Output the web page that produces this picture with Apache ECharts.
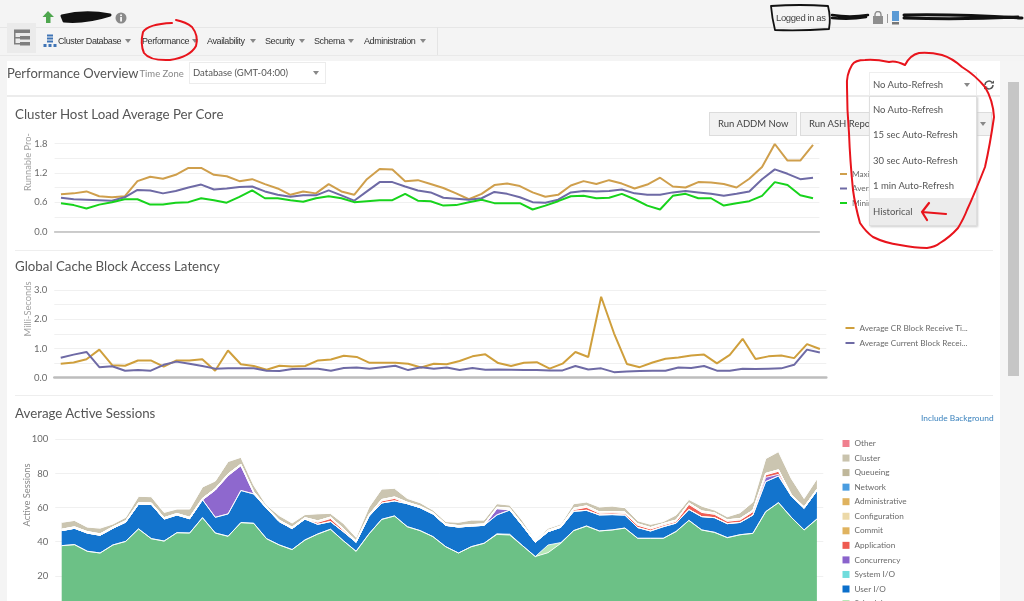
<!DOCTYPE html>
<html><head><meta charset="utf-8">
<script src="https://cdn.jsdelivr.net/npm/echarts@6/dist/echarts.min.js"></script>
<style>
html,body{margin:0;padding:0;width:1024px;height:601px;overflow:hidden;background:#f4f4f4;font-family:Lato,sans-serif;color:#555}
#page{position:absolute;left:0;top:0;width:1024px;height:601px;overflow:hidden;filter:blur(.35px)}
.t{position:absolute;white-space:nowrap;line-height:1}
.nav{font-family:"Liberation Sans",sans-serif;font-size:9px;letter-spacing:-.4px;color:#333;top:36.500px}
.tri{position:absolute;width:0;height:0;border-left:3.5px solid transparent;border-right:3.5px solid transparent;border-top:4.5px solid #888}
.ttl{font-size:13.300px;color:#555}
.box{position:absolute;box-sizing:border-box}
.it{position:absolute;left:873px;font-size:9.500px;color:#555;line-height:1;white-space:nowrap}
#chart{position:absolute;left:0;top:0;width:1024px;height:700px;z-index:2}
#over{position:absolute;left:0;top:0;z-index:3}
#ink{position:absolute;left:0;top:0;z-index:5;pointer-events:none}
</style></head><body><div id="page">
<div class="box" style="left:7px;top:61px;width:993px;height:540px;background:#fff"></div>
<div class="box" style="left:1000px;top:61px;width:24px;height:540px;background:#f5f5f5"></div>
<div class="box" style="left:1008px;top:82px;width:11px;height:294px;background:#c6c6c6"></div>
<div class="box" style="left:0;top:27px;width:1024px;height:1px;background:#e6e6e6"></div>
<div class="box" style="left:43px;top:27px;width:395px;height:28px;border-right:1px solid #e4e4e4"></div>
<div class="box" style="left:0;top:55px;width:1024px;height:1px;background:#e9e9e9"></div>
<div class="box" style="left:7px;top:95px;width:993px;height:2px;background:#ececec"></div>
<div class="box" style="left:15px;top:250px;width:978px;height:1px;background:#eeeeee"></div>
<div class="box" style="left:15px;top:395px;width:978px;height:1px;background:#eeeeee"></div>

<!-- header -->
<div class="box" style="left:7px;top:23px;width:29px;height:30px;background:#ebebeb"></div>
<svg class="box" style="left:12px;top:28px" width="20" height="20"><g fill="#7f7f7f"><rect x="2" y="1.500" width="16" height="3.500"/><rect x="8" y="8" width="10" height="3.500"/><rect x="8" y="14" width="10" height="3.500"/><rect x="2" y="5" width="1.500" height="11"/><rect x="2" y="9" width="6" height="1.500"/><rect x="2" y="15" width="6" height="1.500"/></g></svg>
<svg class="box" style="left:42px;top:10px" width="14" height="14"><path d="M6 1 L12 7 H8.500 V13 H4 V7 H0.500Z" fill="#4ea64e"/></svg>
<svg class="box" style="left:115px;top:12px" width="12" height="12"><circle cx="6" cy="6" r="5.500" fill="#8a8a8a"/><rect x="5.200" y="5" width="1.700" height="4.500" fill="#fff"/><rect x="5.200" y="2.500" width="1.700" height="1.600" fill="#fff"/></svg>
<span class="t" style="left:776px;top:12.500px;font-family:'Liberation Sans';font-size:9.500px;letter-spacing:-.4px;color:#444">Logged in as</span>
<svg class="box" style="left:872px;top:11px" width="30" height="14"><g fill="#8e8e8e"><rect x="1" y="5" width="10" height="8"/></g><path d="M3 6V3.500a3 3 0 0 1 6 0V6" fill="none" stroke="#8e8e8e" stroke-width="1.400"/><rect x="15" y="3" width="1" height="9" fill="#999"/><rect x="20" y="0" width="7" height="10" fill="#5a9ad5"/><rect x="20" y="11" width="7" height="2.500" fill="#777"/></svg>

<!-- nav -->
<svg class="box" style="left:43px;top:34px" width="14" height="14"><g fill="#3f74b5"><rect x="4" y="0.500" width="6" height="2"/><rect x="4" y="3.500" width="6" height="2"/><rect x="4" y="6.500" width="6" height="2"/><rect x="0.500" y="10" width="3" height="3"/><rect x="5.500" y="10" width="3" height="3"/><rect x="10.500" y="10" width="3" height="3"/></g></svg>
<span class="t nav" style="left:58px">Cluster Database</span><i class="tri" style="left:124.500px;top:39px"></i>
<span class="t nav" style="left:142px">Performance</span><i class="tri" style="left:191.500px;top:39px"></i>
<span class="t nav" style="left:207px">Availability</span><i class="tri" style="left:249.500px;top:39px"></i>
<span class="t nav" style="left:265px">Security</span><i class="tri" style="left:298.500px;top:39px"></i>
<span class="t nav" style="left:314px">Schema</span><i class="tri" style="left:347.500px;top:39px"></i>
<span class="t nav" style="left:364px">Administration</span><i class="tri" style="left:419.500px;top:39px"></i>

<!-- toolbar -->
<span class="t" style="left:7px;top:66.500px;font-size:13px;color:#555">Performance Overview</span>
<span class="t" style="left:139.500px;top:69px;font-size:9.500px;color:#888">Time Zone</span>
<div class="box" style="left:189px;top:62px;width:137px;height:22px;background:#fff;border:1px solid #ececec"></div>
<span class="t" style="left:193px;top:68px;font-size:9.500px;color:#555">Database (GMT-04:00)</span><i class="tri" style="left:313px;top:71px"></i>

<span class="t ttl" style="left:15px;top:107.500px">Cluster Host Load Average Per Core</span>
<span class="t ttl" style="left:15px;top:259.500px">Global Cache Block Access Latency</span>
<span class="t ttl" style="left:15px;top:406.500px">Average Active Sessions</span>
<span class="t" style="left:921px;top:414px;font-size:8.400px;color:#3a82bd">Include Background</span>

<div id="chart"></div>

<div id="over">
<div class="box" style="left:709px;top:112px;width:88px;height:24px;background:#f2f2f2;border:1px solid #dcdcdc"></div>
<span class="t" style="left:718px;top:119px;font-size:9.500px;color:#444">Run ADDM Now</span>
<div class="box" style="left:800px;top:112px;width:192px;height:24px;background:#f2f2f2;border:1px solid #dcdcdc"></div>
<span class="t" style="left:809px;top:119px;font-size:9.500px;color:#444">Run ASH Report</span><i class="tri" style="left:980px;top:122px"></i>
<div class="box" style="left:869px;top:72px;width:108px;height:24px;background:#fff;border:1px solid #eeeeee"></div>
<span class="t" style="left:873px;top:80px;font-size:9.500px;color:#555">No Auto-Refresh</span><i class="tri" style="left:964px;top:83px"></i>
<svg class="box" style="left:983px;top:79px" width="12" height="12"><path d="M2 6a4 4 0 0 1 7-2.500M10 6a4 4 0 0 1-7 2.500" fill="none" stroke="#555" stroke-width="1.500"/><path d="M7.500 4.500h3.500v-3zM4.500 7.500h-3.500v3z" fill="#555"/></svg>
<div class="box" style="left:869px;top:96px;width:108px;height:130px;background:#fff;border:1px solid #dedede;box-shadow:1px 1px 2px #ccc"></div>
<div class="box" style="left:870px;top:198px;width:106px;height:27px;background:#ececec"></div>
<span class="it" style="top:105px">No Auto-Refresh</span>
<span class="it" style="top:130px">15 sec Auto-Refresh</span>
<span class="it" style="top:156px">30 sec Auto-Refresh</span>
<span class="it" style="top:181px">1 min Auto-Refresh</span>
<span class="it" style="top:207px">Historical</span>
</div>

<svg id="ink" width="1024" height="601">
<g fill="none" stroke-linecap="round" stroke-linejoin="round">
<path d="M62 16Q85 10 110 15Q85 23 64 21Z" fill="#111" stroke="#111" stroke-width="3"/>
<path d="M832 15Q850 18 868 15M832 18Q850 20 866 17" stroke="#111" stroke-width="2.500"/>
<path d="M904 15Q960 14 1022 18M904 18Q960 20 1018 17" stroke="#111" stroke-width="3"/>
<path d="M771 6Q800 4 828 6Q831 18 829 29Q800 31 775 30Q772 18 771 6Z" stroke="#111" stroke-width="1.800"/>
<path d="M176 20Q186 22 192 27Q199 36 196 46Q190 57 170 60Q150 61 144 53Q140 44 143 32Q148 24 172 23" stroke="#e8141c" stroke-width="2"/>
<path d="M905 65Q895 60 889 62Q875 59 865 60Q855 60 852 65Q846 75 847 87Q847 110 849 133Q850 160 853 190Q855 205 860 223Q866 232 873 237Q885 243 900 245Q915 248 927 248Q935 247 940 243Q950 237 958 228Q964 218 967 210Q974 195 985 167Q990 145 994 117Q993 100 985 87Q975 75 962 67Q952 58 942 55Q930 52 919 53Q910 55 905 65Z" stroke="#e8141c" stroke-width="2"/>
<path d="M946 214L922 212M929 203L922 212L927 220" stroke="#e8141c" stroke-width="2.200"/>
</g></svg>
</div>
<script>
// ---- Cluster Host Load Average Per Core ----
const loadMax = [.76,.78,.82,.72,.70,.72,1.03,1.12,1.08,1.16,1.30,1.30,1.16,1.13,1.03,1.07,.97,.88,.75,.82,.78,.97,.82,.75,1.07,1.28,1.27,1.03,1.05,.97,.89,.78,.66,.77,.95,.98,.93,.80,.71,.75,.94,1.03,.97,1.05,.98,.88,.96,1.10,.92,.90,1.01,1.00,.97,.90,1.08,1.32,1.79,1.45,1.45,1.77];
const loadAvg = [.69,.66,.65,.64,.63,.70,.85,.84,.78,.83,.90,.96,.86,.88,.91,.92,.82,.75,.71,.74,.74,.84,.74,.63,.82,1.01,1.01,.92,.84,.80,.69,.67,.65,.68,.81,.77,.70,.60,.59,.65,.80,.83,.82,.83,.86,.78,.75,.75,.80,.83,.80,.77,.73,.77,.82,1.07,1.27,1.18,1.07,1.10];
const loadMin = [.58,.54,.47,.55,.60,.66,.66,.55,.55,.59,.60,.68,.64,.59,.71,.84,.68,.68,.64,.61,.68,.72,.68,.60,.62,.64,.64,.77,.63,.62,.53,.54,.60,.65,.58,.58,.58,.45,.53,.62,.72,.73,.68,.69,.77,.66,.53,.45,.73,.77,.68,.68,.53,.58,.62,.73,1.01,.95,.74,.68];
// ---- Global Cache Block Access Latency ----
const crReceive = [.48,.52,.63,.96,.43,.41,.59,.59,.38,.59,.59,.63,.24,.93,.46,.40,.27,.41,.38,.40,.59,.62,.75,.71,.51,.51,.51,.48,.35,.48,.46,.57,.73,.80,.50,.40,.51,.53,.31,.48,.88,.71,2.77,1.52,.47,.36,.52,.65,.69,.76,.79,.49,.78,1.33,.64,.73,.76,.67,1.15,.98];
const currentReceive = [.68,.79,.88,.36,.39,.24,.26,.24,.44,.55,.48,.40,.31,.32,.32,.32,.24,.23,.30,.31,.31,.24,.33,.35,.31,.36,.41,.26,.36,.31,.35,.26,.33,.27,.28,.27,.26,.26,.25,.25,.40,.28,.32,.19,.21,.23,.24,.24,.35,.33,.40,.24,.24,.31,.30,.31,.32,.44,.96,.86];
// ---- Average Active Sessions ----
const cpu = [37.7,38.3,34.4,33.4,38.1,40.2,47.5,41.8,40.4,45.3,45.1,54.1,45.1,43.2,51.2,50.8,41.8,38.1,35.4,41,44.5,47.3,40.6,34.4,44.5,53.1,55.1,48.8,46.5,43,37.1,33.4,37.1,39.1,44.3,43.9,37.7,31.3,33.6,39.1,46.5,49.2,46.3,46.9,48,42,42,42,46,52.5,46.9,45.5,42.4,44.1,44.9,57.6,62.9,54.3,46.9,53.3];
const scheduler = [0,0,0,0,0,0,0,0,0,0,0,0,0,0,0,0,0,0,0,0,0,0,0,0,0,0,0,0,0,0,0,0,0,0,.3,.5,0,0,4.5,.4,0,0,0,0,0,0,0,0,0,0,0,0,0,0,0,0,0,0,0,0];
const userIO = [8.8,9.6,10.7,10.4,9.8,11.3,14.5,20.1,12.9,10.4,8.4,10.5,9.2,13.1,18.8,17.2,17.8,13.7,12.3,12.3,5.7,4.5,5.3,5.3,10.4,9.6,8.8,13.5,13.5,13.3,12.5,15.2,12.1,10.5,11.1,14.1,11.7,8.4,7.8,9,11.3,9.2,9.4,9,7.6,6.3,4.3,6.8,4.9,6.4,7.8,8.6,8.2,7.2,10.7,17.6,15.6,12.5,12.7,16.6];
const concurrency = [0,0,0,0,0,0,0,0,0,0,0,0,16,22.3,14.6,.5,0,0,0,0,0,0,0,0,0,0,0,0,0,0,0,0,0,0,3.7,.3,0,0,0,0,0,0,0,0,0,0,0,0,0,0,0,0,0,0,0,2.5,1,0,0,0];
const application = [0,0,0,0,0,0,0,0,0,0,0,0,0,.3,0,0,0,0,0,0,1.2,1.8,1,0,0,1.2,1.5,0,0,0,0,0,0,0,0,0,0,0,0,0,1,1.8,1,1,1,1.4,1.2,1,1,3,2.5,2,1.4,1.5,2,1.5,1.8,0,0,0];
const configuration = [.8,.8,.8,.8,.8,.8,.8,.8,.8,.8,.8,.8,.8,.8,.8,.8,.8,.8,.8,.8,.8,.8,.8,.8,.8,.8,.8,.8,.8,.8,.8,.8,.8,.8,.8,.8,.8,.8,.8,.8,.8,.8,.8,.8,.8,.8,.8,.8,.8,.8,.8,.8,.8,.8,.8,.8,.8,.8,.8,.8];
const cluster = [4.1,3.8,2.7,3.4,1.7,2,3.8,3.7,3.1,2.7,4.9,6.7,4.5,7.3,4.1,3.9,1.1,2.7,2.5,1.8,4.2,2.2,3.1,2.1,4.5,6.2,5.1,2.3,2.1,1.5,1.4,2,2.7,2.3,2.1,1.9,2.1,.5,1.2,1.1,2.7,2.3,2.9,3.2,2.6,1.8,1.9,1.2,3,2.1,2.9,1.7,1.9,3.4,4.9,8.7,10.7,9.5,5,6.1];
const idle = [0,0,0,0,0,0,0,0,0,0,0,0,0,0,0,0,0,0,0,0,0,0,0,0,0,0,0,0,0,0,0,0,0,0,0,0,0,0,0,0,0,0,0,0,0,0,0,0,0,0,0,0,0,0,0,0,0,0,0,0];
const sessionClasses = [
  ['CPU',cpu,'#67bf82'],['Scheduler',scheduler,'#b4e6b4'],['User I/O',userIO,'#0b6fcb'],['System I/O',idle,'#6fdcdc'],
  ['Concurrency',concurrency,'#8a63cc'],['Application',application,'#ee5a50'],['Commit',idle,'#e0b35f'],
  ['Configuration',configuration,'#ecd9a8'],['Administrative',idle,'#dfb25e'],['Network',idle,'#4a9de0'],
  ['Queueing',idle,'#bfb79a'],['Cluster',cluster,'#c9c3ad'],['Other',idle,'#f0808f']
];
const samples = cpu.map((_,i)=>String(i));

const grey='#6a6a6a';
const yAxis=(gridIndex,max,interval,fmt)=>({type:'value',gridIndex,min:0,max,interval,
  axisLine:{show:false},axisTick:{show:false},
  axisLabel:{margin:7,color:grey,fontSize:9.5,fontFamily:'Lato',padding:[3,0,0,0],formatter:fmt},
  splitLine:{lineStyle:{color:'#f0f0f0',width:1}}});
const xAxis=(gridIndex,w)=>({type:'category',gridIndex,data:samples,boundaryGap:true,
  axisTick:{show:false},axisLabel:{show:false},axisLine:{lineStyle:{color:'#bdbdbd',width:w}}});
const line=(name,data,color,idx)=>({name,type:'line',data,xAxisIndex:idx,yAxisIndex:idx,symbol:'none',
  lineStyle:{color,width:2},itemStyle:{color},z:3});
const legendText={color:'#6a6a6a',fontSize:8.2,fontFamily:'Lato',lineHeight:10};
const axisTitle=(text,x,y,color)=>({type:'text',x,y,rotation:Math.PI/2,z:5,
  style:{text,align:'center',verticalAlign:'middle',fill:color,fontSize:9.3,fontFamily:'Lato'}});

const option={
  animation:false,
  grid:[
    {left:54.6,width:764.8,top:143.5,height:88},
    {left:54.3,width:772,top:290,height:87.7},
    {left:55.3,width:768,top:439.3,height:170.7}
  ],
  xAxis:[xAxis(0,1.5),xAxis(1,2.5),xAxis(2,1)],
  yAxis:[
    yAxis(0,1.8,.3,v=>Math.abs(v/.6-Math.round(v/.6))<1e-6?v.toFixed(1):''),
    yAxis(1,3,.5,v=>Number.isInteger(v)?v.toFixed(1):''),
    yAxis(2,100,20,v=>String(v))
  ],
  legend:[
    {data:['Maximum','Average','Minimum'],left:840,top:169,padding:0,orient:'vertical',icon:'rect',itemWidth:7,itemHeight:2,itemGap:4.500,textStyle:legendText},
    {data:['Average CR Block Receive Ti...','Average Current Block Recei...'],left:845.5,top:323,padding:0,orient:'vertical',icon:'rect',itemWidth:9,itemHeight:2,itemGap:5,textStyle:legendText},
    {data:sessionClasses.map(c=>c[0]).reverse(),left:842.5,top:438.5,padding:0,orient:'vertical',icon:'rect',itemWidth:7,itemHeight:7,itemGap:4.550,textStyle:legendText}
  ],
  graphic:[axisTitle('Runnable Pro-',28,162,'#a0a0a0'),axisTitle('Milli-Seconds',28,309,'#a0a0a0'),axisTitle('Active Sessions',27,495,'#888')],
  series:[
    line('Maximum',loadMax,'#cf9f4c',0),line('Average',loadAvg,'#6e6aa5',0),line('Minimum',loadMin,'#17d31c',0),
    line('Average CR Block Receive Ti...',crReceive,'#cf9f3c',1),line('Average Current Block Recei...',currentReceive,'#6e6aa5',1),
    ...sessionClasses.map(([name,data,color])=>({name,type:'line',data,stack:'sessions',xAxisIndex:2,yAxisIndex:2,symbol:'none',
      lineStyle:{color:'#fff',width:1,opacity:.85},areaStyle:{color,opacity:.97},itemStyle:{color}}))
  ]
};
echarts.init(document.getElementById('chart'),null,{renderer:'canvas'}).setOption(option);
</script>
</body></html>
